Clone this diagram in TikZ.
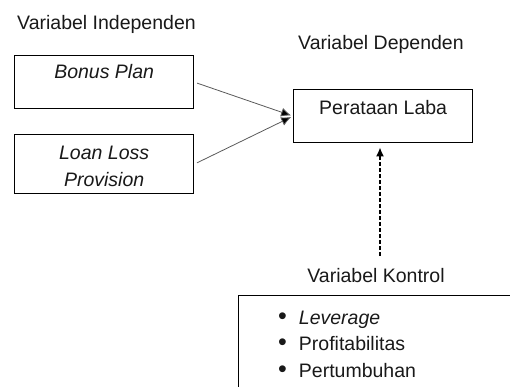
\documentclass[tikz,border=0pt]{standalone}
\usepackage{fontspec}
\setmainfont{Liberation Sans}
\usetikzlibrary{arrows.meta}
\newcommand{\itembul}{{\fontsize{25}{25}\selectfont\textbullet}\hspace{12pt}}
\tikzset{
  box/.style={draw, line width=1.3pt, minimum width=179pt, anchor=north west, inner sep=0pt},
  title/.style={anchor=base west, inner sep=0pt},
  conn/.style={draw=black!65, line width=0.8pt, -{Latex[length=10pt,width=9pt,fill=black]}, shorten <=3pt, shorten >=2pt},
  ctrl/.style={line width=2pt, dash pattern=on 4pt off 2pt, -{Latex[length=9pt,width=8pt]}, shorten <=12pt, shorten >=4pt}
}
\begin{document}
\begin{tikzpicture}[x=1pt, y=-1pt, every node/.style={text=black!90}, font=\fontsize{19.5}{26.5}\selectfont]
        \useasboundingbox (0,0) rectangle (510,387);
        \node [title] (indep) at (17,30) {Variabel Independen};
        \node [title] (dep) at (298,50) {Variabel Dependen};
        \node [box, minimum height=53pt,
          label={[anchor=north, inner sep=0pt, yshift=-9pt]north:\itshape Bonus Plan}] (bonus) at (14,55) {};
        \node [box, minimum height=59pt,
          label={[anchor=north, inner sep=0pt, yshift=-12pt, align=center]north:\itshape Loan Loss\\\itshape Provision}] (loan) at (14,134) {};
        \node [box, minimum height=53pt,
          label={[anchor=north, inner sep=0pt, yshift=-11pt]north:Perataan Laba}] (laba) at (293,89) {};
        \draw [conn] (bonus.east) -- (laba.west);
        \draw [conn] (loan.east) -- (laba.west);
        \node [inner sep=0pt, anchor=base] (ktitle) at (376,282) {Variabel Kontrol};
        \draw [ctrl] ([xshift=4pt]ktitle.north) -- ([xshift=4pt]ktitle.north |- laba.south);
        \node [box, minimum width=300pt, minimum height=120pt] (kontrol) at (238,295) {};
        \node [anchor=north west, inner sep=0pt, align=left] (items) at (278,311)
          {\itembul\textit{Leverage}\\[-1pt]
           \itembul Profitabilitas\\[1pt]
           \itembul Pertumbuhan};
      \end{tikzpicture}
\end{document}
